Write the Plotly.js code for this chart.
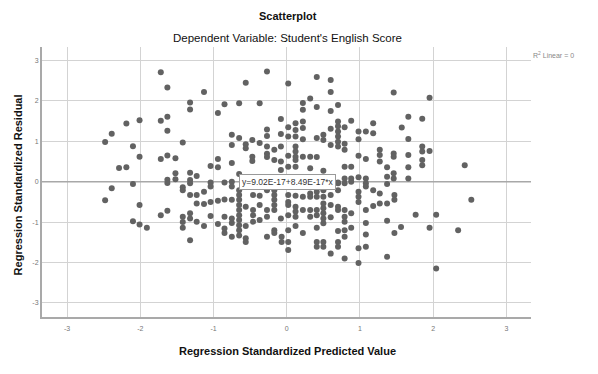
<!DOCTYPE html>
<html><head><meta charset="utf-8">
<script src="https://cdn.plot.ly/plotly-3.0.1.min.js"></script>
<style>html,body{margin:0;padding:0;background:#fff}#chart{width:598px;height:374px}</style>
</head><body><div id="chart"></div>
<script>
// [standardized predicted value, standardized residual]
const ptsFarLeft = [[-1.72,2.71],[-1.63,2.33],[-1.63,1.61],[-1.72,1.51],[-2.01,1.52],[-2.19,1.44],[-2.39,1.19],[-1.63,1.26],[-2.48,0.98],[-2.10,0.88],[-2.01,0.62],[-1.72,0.56],[-1.63,0.65],[-2.29,0.34],[-2.19,0.36],[-1.63,0.05],[-1.63,-0.03],[-2.39,-0.16],[-2.10,-0.06],[-2.48,-0.46],[-2.01,-0.58],[-1.72,-0.83],[-1.63,-0.72],[-2.10,-0.98],[-2.01,-1.06],[-1.91,-1.14]];
const ptsLeftUpper = [[-1.13,2.22],[-0.56,2.45],[-0.27,2.73],[0.02,2.43],[-1.32,1.96],[-1.32,1.79],[-0.85,1.92],[-0.65,1.94],[-0.37,1.94],[-0.94,1.70],[-0.08,1.55],[0.02,1.35],[-0.27,1.29],[-0.27,1.13],[-0.08,1.18],[-0.75,1.16],[-0.65,1.08],[-0.47,1.03],[-0.37,0.96],[-0.56,0.93],[-0.56,0.83],[-0.75,0.91],[-1.42,0.97],[-0.27,0.87],[-0.17,0.79],[-0.08,0.87],[-0.27,0.69],[-0.27,0.61],[-0.47,0.62],[-0.47,0.51],[-0.17,0.54],[-1.52,0.58],[-0.94,0.56],[-0.94,0.36],[-1.04,0.39],[-0.75,0.46],[-0.08,0.50],[0.02,0.37],[-0.65,0.19],[-0.08,0.29],[-1.52,0.21],[-1.32,0.22],[-1.23,0.14],[-1.52,0.06],[-1.32,0.04],[-1.04,-0.02],[-1.04,-0.12],[-0.85,-0.02],[-0.75,0.0],[-0.75,-0.12],[-1.42,-0.14]];
const ptsLeftLower = [[-1.32,-0.04],[-1.42,-0.21],[-1.32,-0.33],[-1.23,-0.33],[-1.13,-0.25],[-1.23,-0.54],[-1.13,-0.55],[-1.04,-0.50],[-0.94,-0.47],[-0.85,-0.44],[-0.75,-0.45],[-0.65,-0.21],[-0.65,-0.33],[-0.65,-0.45],[-0.65,-0.58],[-0.65,-0.70],[-0.65,-0.83],[-0.65,-0.95],[-0.65,-1.08],[-0.65,-1.20],[-0.65,-1.33],[-0.56,-0.62],[-0.46,-0.33],[-0.37,-0.35],[-0.27,-0.21],[-0.17,-0.21],[-0.17,-0.33],[-0.17,-0.45],[-0.17,-0.58],[-0.17,-0.70],[-0.46,-0.70],[-0.46,-0.83],[-0.37,-0.58],[-0.27,-0.70],[-0.27,-0.87],[-0.37,-0.95],[-0.46,-0.99],[-0.56,-1.10],[-0.75,-0.91],[-0.75,-1.02],[-0.85,-0.87],[-0.85,-1.16],[-0.85,-1.27],[-0.75,-1.36],[-0.56,-1.40],[-0.56,-1.49],[-0.94,-1.05],[-1.04,-0.85],[-1.13,-1.10],[-1.23,-0.99],[-1.32,-0.78],[-1.32,-0.91],[-1.42,-0.87],[-1.42,-1.00],[-1.42,-1.14],[-1.32,-1.45],[-0.07,-1.36],[-0.17,-1.20],[-0.17,-1.27],[-0.27,-1.36],[0.02,-1.20],[0.02,-1.69],[-0.08,-0.91],[-0.07,-1.49]];
const ptsRightUpper = [[0.41,2.59],[0.60,2.52],[0.60,2.22],[1.46,2.21],[0.32,2.06],[0.22,1.95],[0.22,1.78],[0.41,1.85],[0.70,1.90],[0.60,1.75],[0.12,1.45],[0.12,1.28],[0.22,1.49],[0.22,1.33],[0.70,1.49],[0.70,1.37],[0.70,1.24],[0.70,1.12],[0.70,0.99],[0.70,0.87],[0.60,1.31],[0.79,1.35],[0.88,1.51],[0.98,1.24],[1.08,1.24],[1.18,1.45],[1.18,1.20],[0.98,1.05],[0.50,1.16],[0.50,1.03],[0.41,1.08],[0.22,1.05],[0.12,1.12],[0.02,1.12],[0.60,0.91],[0.79,0.94],[0.79,0.79],[0.12,0.87],[0.12,0.75],[0.12,0.62],[0.12,0.54],[0.22,0.62],[0.32,0.62],[0.41,0.61],[0.02,0.64],[0.98,0.64],[1.08,0.56],[1.27,0.79],[1.27,0.66],[1.27,0.50],[1.46,0.70],[1.46,0.62],[1.66,0.66],[0.12,0.37],[0.32,0.33],[0.50,0.27],[0.79,0.37],[0.88,0.37],[1.37,0.36],[1.66,0.36],[1.46,0.21],[1.46,0.08],[1.37,0.12],[1.08,0.08],[1.08,-0.04],[0.98,0.11],[0.79,0.08],[0.88,0.08],[0.70,-0.02],[1.66,0.08],[0.50,-0.04]];
const ptsRightLower = [[0.02,-0.33],[0.12,-0.35],[0.22,-0.37],[0.32,-0.29],[0.32,-0.37],[0.41,-0.25],[0.41,-0.37],[0.50,-0.21],[0.50,-0.37],[0.60,-0.33],[0.70,-0.04],[0.70,-0.21],[0.79,-0.04],[0.88,0.0],[0.98,-0.25],[0.98,-0.37],[0.98,-0.50],[1.08,-0.12],[1.18,-0.21],[1.27,-0.29],[1.37,-0.06],[1.37,-0.54],[1.47,-0.33],[1.47,-0.45],[1.27,-0.54],[1.18,-0.60],[1.08,-0.70],[0.88,-0.78],[0.79,-0.70],[0.79,-0.87],[0.70,-0.62],[0.70,-0.70],[0.60,-0.58],[0.50,-0.54],[0.50,-0.66],[0.50,-0.78],[0.50,-0.91],[0.50,-1.03],[0.41,-0.70],[0.41,-0.83],[0.32,-0.70],[0.32,-0.87],[0.22,-0.70],[0.12,-0.62],[0.12,-0.74],[0.12,-0.87],[0.02,-0.50],[0.02,-0.58],[0.02,-0.83],[0.60,-0.88],[0.12,-1.10],[0.22,-1.27],[0.41,-1.14],[0.79,-0.99],[0.88,-1.14],[0.79,-1.20],[0.70,-1.22],[1.08,-1.02],[1.08,-1.31],[1.37,-0.97],[1.47,-1.27],[1.56,-1.12],[0.02,-1.49],[0.41,-1.49],[0.41,-1.61],[0.50,-1.49],[0.50,-1.61],[0.70,-1.49],[0.70,-1.61],[0.79,-1.36],[0.60,-1.78],[0.79,-1.90],[0.98,-1.65],[1.08,-1.61],[0.98,-2.01],[1.37,-1.86]];
const ptsFarRight = [[1.95,2.08],[1.66,1.61],[1.85,1.56],[1.57,1.34],[1.66,1.06],[1.85,0.87],[1.85,0.75],[1.95,0.76],[1.85,0.54],[1.85,0.41],[2.43,0.41],[1.76,-0.82],[2.04,-0.82],[1.95,-1.14],[2.34,-1.20],[2.52,-0.45],[2.04,-2.15]];

const xTicks = [-3,-2,-1,0,1,2,3];
const yTicks = [-3,-2,-1,0,1,2,3];
const fitIntercept = 9.02e-17;
const fitSlope = 8.49e-17;
const fitLabel = "y=9.02E-17+8.49E-17*x";
const r2Label = "R<sup>2</sup> Linear = 0";
const titleMain = "Scatterplot";
const titleSub = "Dependent Variable: Student's English Score";
const xTitle = "Regression Standardized Predicted Value";
const yTitle = "Regression Standardized Residual";

const all = [].concat(ptsFarLeft, ptsLeftUpper, ptsLeftLower, ptsRightUpper, ptsRightLower, ptsFarRight);
const xr = [-3.342, 3.335], yr = [-3.35, 3.335];
const FONT = "Liberation Sans, Arial, sans-serif";

const traces = [
  {type:'scatter', mode:'lines', x: xr, y: xr.map(v => fitIntercept + fitSlope*v),
   line:{color:'#a8a8a8', width:1.5}, hoverinfo:'skip', showlegend:false},
  {type:'scatter', mode:'markers', x: all.map(p=>p[0]), y: all.map(p=>p[1]),
   marker:{color:'#626262', size:6, line:{width:0}}, showlegend:false}
];

const axisCommon = {showline:true, linecolor:'#a9a9a9', linewidth:2, mirror:false,
  showgrid:true, gridcolor:'#d3d3d3', gridwidth:1, zeroline:false, ticks:'',
  tickfont:{family:FONT, size:7, color:'#777'}, fixedrange:true};

const layout = {
  width:598, height:374,
  margin:{l:42, r:67, t:47, b:57, pad:0},
  paper_bgcolor:'#fff', plot_bgcolor:'#fff',
  showlegend:false,
  xaxis: Object.assign({}, axisCommon, {range:xr, tickvals:xTicks, ticktext:xTicks.map(String), ticklabelstandoff:4}),
  yaxis: Object.assign({}, axisCommon, {range:yr, tickvals:yTicks, ticktext:yTicks.map(String), ticklabelstandoff:0}),
  annotations:[
    {text:titleMain, xref:'paper', yref:'paper', x:0.503, y:1.116, xanchor:'center', yanchor:'middle', showarrow:false,
     font:{family:FONT, size:11, color:'#111', weight:'bold'}},
    {text:titleSub, xref:'paper', yref:'paper', x:0.503, y:1.0345, xanchor:'center', yanchor:'middle', showarrow:false,
     font:{family:FONT, size:11.5, color:'#111'}},
    {text:r2Label, xref:'paper', yref:'paper', x:1.0, y:0.971, xanchor:'left', yanchor:'middle', showarrow:false,
     font:{family:FONT, size:7, color:'#888'}},
    {text:xTitle, xref:'paper', yref:'paper', x:0.502, y:-0.125, xanchor:'center', yanchor:'middle', showarrow:false,
     font:{family:FONT, size:11, color:'#111', weight:'bold'}},
    {text:yTitle, xref:'paper', yref:'paper', x:-0.0497, y:0.49, xanchor:'center', yanchor:'middle', textangle:-90, showarrow:false,
     font:{family:FONT, size:11, color:'#111', weight:'bold'}},
    {text:fitLabel, xref:'x', yref:'y', x:0.01, y:fitIntercept, xanchor:'center', yanchor:'middle', showarrow:false,
     bgcolor:'#fff', bordercolor:'#999', borderwidth:1, borderpad:2,
     font:{family:FONT, size:8.5, color:'#333'}}
  ]
};

Plotly.newPlot('chart', traces, layout, {displayModeBar:false, staticPlot:true});
</script>
</body></html>
